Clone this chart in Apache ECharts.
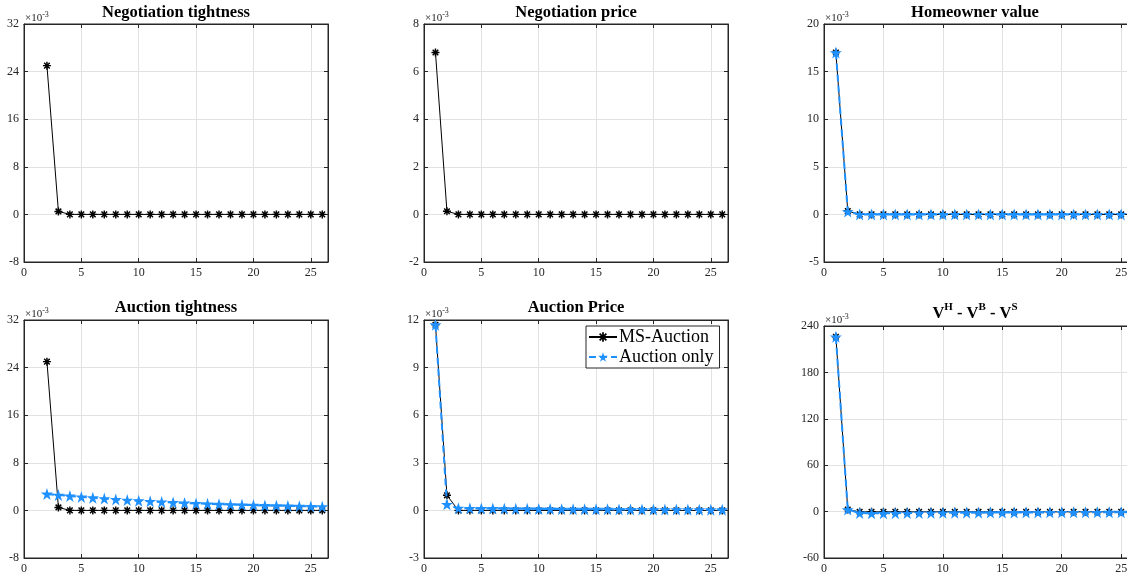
<!DOCTYPE html>
<html><head><meta charset="utf-8">
<script src="https://cdn.jsdelivr.net/npm/echarts@6/dist/echarts.min.js"></script>
<style>html,body{margin:0;padding:0;background:#fff}#c{width:1127px;height:581px}</style>
</head><body><div id="c"></div>
<script>
// ---------- data (values in units of 1e-3) ----------
const periods = [1,2,3,4,5,6,7,8,9,10,11,12,13,14,15,16,17,18,19,20,21,22,23,24,25,26];
const seriesNames = ['MS-Auction', 'Auction only'];
const panelTitles = ['Negotiation tightness', 'Negotiation price', 'Homeowner value',
                     'Auction tightness', 'Auction Price', 'V^H - V^B - V^S'];
const yMin  = [-8, -2, -5, -8, -3, -60];
const yMax  = [32,  8, 20, 32, 12, 240];
const yStep = [ 8,  2,  5,  8,  3,  60];
const xMin = 0, xMax = 26.5, xStep = 5;

const negTightMS = [null,25,0.5,0,0,0,0,0,0,0,0,0,0,0,0,0,0,0,0,0,0,0,0,0,0,0];
const negPriceMS = [6.8,0.13,0,0,0,0,0,0,0,0,0,0,0,0,0,0,0,0,0,0,0,0,0,0,0,0];
const homeMS     = [17,0.35,0,0,0,0,0,0,0,0,0,0,0,0,0,0,0,0,0,0,0,0,0,0,0,0];
const homeAO     = [17,0.3,0,0,0,0,0,0,0,0,0,0,0,0,0,0,0,0,0,0,0,0,0,0,0,0];
const aucTightMS = [null,25,0.5,0,0,0,0,0,0,0,0,0,0,0,0,0,0,0,0,0,0,0,0,0,0,0];
const aucTightAO = [null,2.75,2.58,2.42,2.27,2.12,1.98,1.85,1.73,1.62,1.52,1.42,1.33,1.25,1.17,1.10,1.04,0.98,0.93,0.88,0.83,0.79,0.75,0.71,0.67,0.63];
const aucPriceMS = [11.7,0.95,0,0,0,0,0,0,0,0,0,0,0,0,0,0,0,0,0,0,0,0,0,0,0,0];
const aucPriceAO = [11.7,0.38,0.14,0.13,0.12,0.12,0.11,0.10,0.10,0.09,0.09,0.08,0.08,0.07,0.07,0.07,0.06,0.06,0.06,0.05,0.05,0.05,0.05,0.04,0.04,0.04];
const vDiffMS    = [226,2.6,-0.3,-0.3,-0.3,-0.3,-0.3,-0.3,-0.3,-0.3,-0.3,-0.3,-0.3,-0.3,-0.3,-0.3,-0.3,-0.3,-0.3,-0.3,-0.3,-0.3,-0.3,-0.3,-0.3,-0.3];
const vDiffAO    = [226,2.6,-1.8,-2.2,-2.1,-2.0,-1.9,-1.8,-1.7,-1.6,-1.5,-1.4,-1.4,-1.3,-1.2,-1.2,-1.1,-1.1,-1.0,-1.0,-0.9,-0.9,-0.9,-0.8,-0.8,-0.8];

const panelMS = [negTightMS, negPriceMS, homeMS, aucTightMS, aucPriceMS, vDiffMS];
const panelAO = [null, null, homeAO, aucTightAO, aucPriceAO, vDiffAO];

// ---------- layout / style ----------
const FONT = '"Liberation Serif", "Times New Roman", serif';
const AXC = '#262626';
const BLUE = '#1E90FF';
const grids = [
  {left: 24,  top: 24,  width: 304, height: 238},
  {left: 424, top: 24,  width: 304, height: 238},
  {left: 824, top: 24,  width: 315, height: 238},
  {left: 24,  top: 320, width: 304, height: 238},
  {left: 424, top: 320, width: 304, height: 238},
  {left: 824, top: 326, width: 315, height: 232}
];
const titlePos = [[176,13],[576,13],[975,13],[176,308],[576,308],[975,312]];
const multPos = [[25,17],[425,17],[825,17],[25,313],[425,313],[825,319]];

const ASTER = 'path://M4.1 0L5.9 0L5.9 10L4.1 10ZM0 4.1L10 4.1L10 5.9L0 5.9ZM0.86 2.14L2.14 0.86L9.14 7.86L7.86 9.14ZM7.86 0.86L9.14 2.14L2.14 9.14L0.86 7.86Z';
const STAR = 'path://M50 0L61.23 34.55L97.55 34.55L68.16 55.9L79.39 90.45L50 69.1L20.61 90.45L31.84 55.9L2.45 34.55L38.77 34.55Z';

function pairs(arr) {
  return periods.map((p, i) => [p, arr[i]]).filter(d => d[1] !== null);
}

const gridOpts = grids.map(g => Object.assign({show: true, borderColor: AXC, borderWidth: 1,
  backgroundColor: 'transparent', containLabel: false, outerBoundsMode: 'none'}, g));
const xAxes = [], yAxes = [], series = [], graphics = [];
for (let i = 0; i < 6; i++) {
  xAxes.push({
    type: 'value', gridIndex: i, min: xMin, max: xMax, interval: xStep, position: 'bottom',
    axisLine: {show: true, onZero: false, lineStyle: {color: AXC, width: 1}},
    axisTick: {show: true, inside: true, length: 4, lineStyle: {color: AXC}},
    axisLabel: {show: true, margin: 5, color: AXC, fontFamily: FONT, fontSize: 12,
      formatter: v => (v % xStep === 0 ? String(v) : '')},
    splitLine: {show: true, lineStyle: {color: '#e2e2e2', width: 1}}
  });
  yAxes.push({
    type: 'value', gridIndex: i, min: yMin[i], max: yMax[i], interval: yStep[i], position: 'left',
    axisLine: {show: true, onZero: false, lineStyle: {color: AXC, width: 1}},
    axisTick: {show: true, inside: true, length: 4, lineStyle: {color: AXC}},
    axisLabel: {show: true, margin: 5, color: AXC, fontFamily: FONT, fontSize: 12},
    splitLine: {show: true, lineStyle: {color: '#e2e2e2', width: 1}}
  });
}
for (let i = 0; i < 6; i++) {
  xAxes.push({
    type: 'value', gridIndex: i, min: xMin, max: xMax, interval: xStep, position: 'top',
    axisLine: {show: true, onZero: false, lineStyle: {color: AXC, width: 1}},
    axisTick: {show: true, inside: true, length: 4, lineStyle: {color: AXC}},
    axisLabel: {show: false}, splitLine: {show: false}
  });
  yAxes.push({
    type: 'value', gridIndex: i, min: yMin[i], max: yMax[i], interval: yStep[i], position: 'right',
    axisLine: {show: true, onZero: false, lineStyle: {color: AXC, width: 1}},
    axisTick: {show: true, inside: true, length: 4, lineStyle: {color: AXC}},
    axisLabel: {show: false}, splitLine: {show: false}
  });
}
for (let i = 0; i < 6; i++) {
  series.push({
    name: seriesNames[0], type: 'line', xAxisIndex: i, yAxisIndex: i, data: pairs(panelMS[i]),
    symbol: ASTER, symbolSize: 8, showSymbol: true,
    lineStyle: {color: '#000', width: 1}, itemStyle: {color: '#000'}, z: 2
  });
  if (panelAO[i]) {
    series.push({
      name: seriesNames[1], type: 'line', xAxisIndex: i, yAxisIndex: i, data: pairs(panelAO[i]),
      symbol: STAR, symbolSize: 12, showSymbol: true,
      lineStyle: {color: BLUE, width: 2, type: [7, 4]}, itemStyle: {color: BLUE}, z: 3
    });
  }
  // titles
  if (panelTitles[i].indexOf('^') < 0) {
    graphics.push({type: 'text', x: titlePos[i][0], y: titlePos[i][1], z: 10,
      style: {text: panelTitles[i], font: 'bold 16.5px ' + FONT, fill: '#000', textAlign: 'center', textVerticalAlign: 'middle'}});
  } else {
    const parts = panelTitles[i].split(' - ').map(p => p.split('^'));
    const txt = parts.map((p, k) => (k > 0 ? '{m| - ' : '{m|') + p[0] + '}{s|' + p[1] + '}').join('');
    graphics.push({type: 'text', x: titlePos[i][0], y: titlePos[i][1], z: 10,
      style: {text: txt, textAlign: 'center', textVerticalAlign: 'middle',
        rich: {
          m: {fontFamily: FONT, fontWeight: 'bold', fontSize: 16.5, lineHeight: 20, verticalAlign: 'bottom', fill: '#000'},
          s: {fontFamily: FONT, fontWeight: 'bold', fontSize: 11, lineHeight: 11, verticalAlign: 'top', fill: '#000'}
        }}});
  }
  graphics.push({type: 'text', x: multPos[i][0], y: multPos[i][1], z: 10,
    style: {text: '{a|\u00d710}{b|-3}', textAlign: 'left', textVerticalAlign: 'middle',
      rich: {
        a: {fontFamily: FONT, fontSize: 11, lineHeight: 13, verticalAlign: 'bottom', fill: AXC},
        b: {fontFamily: FONT, fontSize: 8, lineHeight: 8, verticalAlign: 'top', fill: AXC}
      }}});
}

const chart = echarts.init(document.getElementById('c'), null, {renderer: 'canvas'});
chart.setOption({
  animation: false,
  backgroundColor: '#fff',
  grid: gridOpts,
  xAxis: xAxes,
  yAxis: yAxes,
  legend: {
    show: true, data: seriesNames, orient: 'vertical', left: 586, top: 326,
    backgroundColor: '#fff', borderColor: AXC, borderWidth: 1, padding: [2, 6, 2, 2],
    itemGap: 2, itemWidth: 28, itemHeight: 12,
    textStyle: {fontFamily: FONT, fontSize: 18, color: '#000', padding: [0, 0, 0, -3]}
  },
  series: series,
  graphic: graphics
});
</script>
</body></html>
